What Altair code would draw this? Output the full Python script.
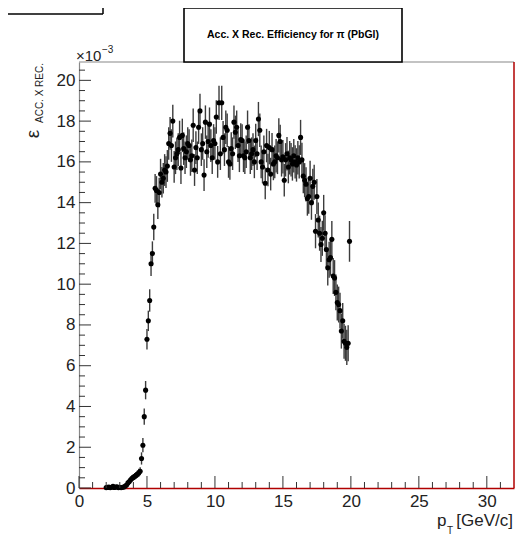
import altair as alt
import pandas as pd

# pT bin centres [GeV/c]
pt = [
    2.0, 2.1, 2.2, 2.3, 2.4, 2.5, 2.6, 2.7, 2.8, 2.9,
    3.0, 3.1, 3.2, 3.3, 3.4, 3.5, 3.6, 3.7, 3.8, 3.9,
    4.0, 4.1, 4.2, 4.3, 4.4, 4.5, 4.6, 4.7, 4.8, 4.9,
    5.0, 5.1, 5.2, 5.3, 5.4, 5.5, 5.6, 5.7, 5.8, 5.9,
    6.0, 6.1, 6.2, 6.3, 6.4, 6.5, 6.6, 6.7, 6.8, 6.9,
    7.0, 7.1, 7.2, 7.3, 7.4, 7.5, 7.6, 7.7, 7.8, 7.9,
    8.0, 8.1, 8.2, 8.3, 8.4, 8.5, 8.6, 8.7, 8.8, 8.9,
    9.0, 9.1, 9.2, 9.3, 9.4, 9.5, 9.6, 9.7, 9.8, 9.9,
    10.0, 10.1, 10.2, 10.3, 10.4, 10.5, 10.6, 10.7, 10.8, 10.9,
    11.0, 11.1, 11.2, 11.3, 11.4, 11.5, 11.6, 11.7, 11.8, 11.9,
    12.0, 12.1, 12.2, 12.3, 12.4, 12.5, 12.6, 12.7, 12.8, 12.9,
    13.0, 13.1, 13.2, 13.3, 13.4, 13.5, 13.6, 13.7, 13.8, 13.9,
    14.0, 14.1, 14.2, 14.3, 14.4, 14.5, 14.6, 14.7, 14.8, 14.9,
    15.0, 15.1, 15.2, 15.3, 15.4, 15.5, 15.6, 15.7, 15.8, 15.9,
    16.0, 16.1, 16.2, 16.3, 16.4, 16.5, 16.6, 16.7, 16.8, 16.9,
    17.0, 17.1, 17.2, 17.3, 17.4, 17.5, 17.6, 17.7, 17.8, 17.9,
    18.0, 18.1, 18.2, 18.3, 18.4, 18.5, 18.6, 18.7, 18.8, 18.9,
    19.0, 19.1, 19.2, 19.3, 19.4, 19.5, 19.6, 19.7, 19.8, 19.9,
]

# efficiency (x 10^-3)
eff = [
    0.02, 0.03, 0.05, 0.02, 0.04, 0.08, 0.03, 0.05, 0.06, 0.02,
    0.03, 0.02, 0.04, 0.05, 0.10, 0.15, 0.25, 0.32, 0.40, 0.48,
    0.52, 0.58, 0.62, 0.68, 0.75, 0.82, 1.45, 2.10, 3.50, 4.80,
    7.30, 8.20, 9.20, 11.00, 11.50, 12.80, 14.70, 14.60, 13.90, 14.50,
    15.40, 15.00, 15.20, 15.60, 15.50, 15.80, 16.90, 17.40, 16.80, 18.00,
    15.75, 16.20, 16.40, 16.60, 17.20, 15.70, 17.30, 16.65, 16.20, 16.50,
    16.90, 16.80, 16.10, 16.30, 17.80, 15.60, 16.70, 16.20, 17.70, 18.50,
    16.60, 16.90, 15.35, 17.95, 16.50, 17.00, 17.85, 16.80, 16.20, 17.05,
    16.90, 18.20, 16.00, 18.90, 16.40, 18.90, 17.20, 16.60, 17.70, 17.55,
    16.00, 15.90, 16.65, 16.40, 17.95, 17.45, 17.70, 16.80, 16.30, 17.10,
    17.05, 16.30, 16.20, 16.50, 17.70, 17.05, 16.20, 16.40, 16.60, 16.00,
    17.05, 16.40, 18.10, 17.55, 16.00, 15.75, 16.50, 14.95, 16.80, 15.60,
    16.70, 15.40, 16.60, 15.90, 16.00, 16.30, 16.20, 17.30, 17.00, 16.10,
    16.25, 15.10, 16.10, 16.40, 15.75, 16.20, 16.10, 15.90, 16.30, 16.00,
    15.85, 16.20, 16.00, 17.20, 16.10, 15.30, 15.10, 14.90, 14.20, 14.30,
    15.20, 14.00, 14.80, 15.00, 12.60, 14.30, 13.15, 12.50, 11.95, 12.25,
    13.50, 12.50, 11.70, 10.80, 11.20, 11.30, 12.20, 10.40, 10.30, 9.60,
    9.10, 9.00, 8.70, 7.70, 8.20, 7.20, 7.10, 6.90, 7.10, 12.10,
]

# statistical errors (x 10^-3)
err = [
    0.05, 0.05, 0.05, 0.05, 0.05, 0.05, 0.05, 0.05, 0.05, 0.05,
    0.05, 0.05, 0.05, 0.06, 0.08, 0.10, 0.12, 0.13, 0.14, 0.15,
    0.15, 0.16, 0.17, 0.18, 0.19, 0.20, 0.30, 0.35, 0.40, 0.45,
    0.50, 0.50, 0.55, 0.60, 0.60, 0.65, 0.70, 0.70, 0.70, 0.72,
    0.75, 0.75, 0.75, 0.78, 0.78, 0.78, 0.80, 0.80, 0.80, 0.80,
    0.78, 0.80, 0.80, 0.80, 0.82, 0.78, 0.82, 0.80, 0.80, 0.80,
    0.80, 0.80, 0.78, 0.80, 0.82, 0.78, 0.80, 0.80, 0.82, 0.84,
    0.80, 0.80, 0.78, 0.82, 0.80, 0.80, 0.82, 0.80, 0.80, 0.80,
    0.80, 0.82, 0.78, 0.84, 0.80, 0.84, 0.80, 0.80, 0.82, 0.82,
    0.78, 0.78, 0.80, 0.80, 0.82, 0.82, 0.82, 0.80, 0.80, 0.80,
    0.80, 0.80, 0.80, 0.80, 0.82, 0.80, 0.80, 0.80, 0.80, 0.80,
    0.82, 0.80, 0.84, 0.82, 0.80, 0.80, 0.80, 0.78, 0.82, 0.80,
    0.82, 0.80, 0.82, 0.80, 0.80, 0.82, 0.80, 0.84, 0.82, 0.82,
    0.82, 0.80, 0.82, 0.82, 0.80, 0.82, 0.82, 0.82, 0.82, 0.82,
    0.82, 0.82, 0.82, 0.86, 0.84, 0.84, 0.84, 0.84, 0.84, 0.84,
    0.86, 0.84, 0.86, 0.86, 0.84, 0.86, 0.86, 0.86, 0.86, 0.86,
    0.88, 0.88, 0.88, 0.86, 0.88, 0.88, 0.90, 0.88, 0.88, 0.88,
    0.88, 0.88, 0.88, 0.86, 0.88, 0.86, 0.86, 0.86, 0.88, 1.00,
]

x_labels = [0, 5, 10, 15, 20, 25, 30]
x_minor = [1, 2, 3, 4, 6, 7, 8, 9, 11, 12, 13, 14, 16, 17, 18, 19,
           21, 22, 23, 24, 26, 27, 28, 29, 31]
y_labels = [0, 2, 4, 6, 8, 10, 12, 14, 16, 18, 20]
y_minor = [0.5, 1, 1.5, 2.5, 3, 3.5, 4.5, 5, 5.5, 6.5, 7, 7.5, 8.5, 9, 9.5,
           10.5, 11, 11.5, 12.5, 13, 13.5, 14.5, 15, 15.5, 16.5, 17, 17.5,
           18.5, 19, 19.5, 20.5]

title_text = "Acc. X Rec. Efficiency for π (PbGl)"

W, H = 435, 426
FONT = "Liberation Sans"
TXT = "#222222"

df = pd.DataFrame({"pt": pt, "eff": eff, "err": err})
df["lo"] = df["eff"] - df["err"]
df["hi"] = df["eff"] + df["err"]

xs = alt.Scale(domain=[0, 32], nice=False, zero=False)
ys = alt.Scale(domain=[0, 20.9], nice=False, zero=False)

xaxis = alt.Axis(values=x_labels, ticks=False, grid=False, title=None,
                 domainColor="#b00000", domainWidth=1.5,
                 labelFont=FONT, labelFontSize=17, labelColor=TXT,
                 labelPadding=5, labelFlush=False)
yaxis = alt.Axis(values=y_labels, ticks=False, grid=False, title=None,
                 domainColor="#888888", domainWidth=1.2,
                 labelFont=FONT, labelFontSize=17, labelColor=TXT,
                 labelPadding=4, labelFlush=False)

base = alt.Chart(df)
errbars = base.mark_rule(color="#3c3c3c", strokeWidth=1.4).encode(
    x=alt.X("pt:Q", scale=xs, axis=xaxis),
    y=alt.Y("lo:Q", scale=ys, axis=yaxis),
    y2="hi:Q",
)
points = base.mark_circle(size=26, color="black", opacity=1).encode(
    x=alt.X("pt:Q", scale=xs, axis=xaxis),
    y=alt.Y("eff:Q", scale=ys, axis=yaxis),
)

ymaj = alt.Chart(pd.DataFrame({"v": y_labels})).mark_rule(color="#333333", strokeWidth=1).encode(
    y=alt.Y("v:Q", scale=ys, axis=yaxis), x=alt.value(0), x2=alt.value(12))
ymin = alt.Chart(pd.DataFrame({"v": y_minor})).mark_rule(color="#333333", strokeWidth=1).encode(
    y=alt.Y("v:Q", scale=ys, axis=yaxis), x=alt.value(0), x2=alt.value(6))
xmaj = alt.Chart(pd.DataFrame({"v": x_labels})).mark_rule(color="#333333", strokeWidth=1).encode(
    x=alt.X("v:Q", scale=xs, axis=xaxis), y=alt.value(H), y2=alt.value(H - 12))
xmin = alt.Chart(pd.DataFrame({"v": x_minor})).mark_rule(color="#333333", strokeWidth=1).encode(
    x=alt.X("v:Q", scale=xs, axis=xaxis), y=alt.value(H), y2=alt.value(H - 6))

one = pd.DataFrame({"a": [0]})
top_line = alt.Chart(one).mark_rule(color="#888888", strokeWidth=1.2).encode(
    x=alt.value(0), x2=alt.value(W), y=alt.value(0))
right_line = alt.Chart(one).mark_rule(color="#b00000", strokeWidth=1.5).encode(
    x=alt.value(W), y=alt.value(0), y2=alt.value(H))

# title box
tbox = alt.Chart(one).mark_rect(fill="white", stroke="black", strokeWidth=1.6).encode(
    x=alt.value(105), x2=alt.value(323), y=alt.value(-54), y2=alt.value(0))
ttext = alt.Chart(one).mark_text(font=FONT, fontSize=10.5, fontWeight="bold",
                                 align="center", baseline="middle", color="black").encode(
    x=alt.value(214), y=alt.value(-27), text=alt.value(title_text))

# cut-off box at top-left
cb1 = alt.Chart(one).mark_rule(color="black", strokeWidth=1.5).encode(
    x=alt.value(-71), x2=alt.value(24), y=alt.value(-48))
cb2 = alt.Chart(one).mark_rule(color="black", strokeWidth=1.5).encode(
    x=alt.value(24), y=alt.value(-54), y2=alt.value(-48))

# exponent
exp1 = alt.Chart(one).mark_text(font=FONT, fontSize=15, align="left", baseline="alphabetic",
                                color=TXT).encode(
    x=alt.value(-3), y=alt.value(-1), text=alt.value("×10"))
exp2 = alt.Chart(one).mark_text(font=FONT, fontSize=10, align="left", baseline="alphabetic",
                                color=TXT).encode(
    x=alt.value(23), y=alt.value(-9), text=alt.value("−3"))

# y title
yt1 = alt.Chart(one).mark_text(font=FONT, fontSize=19, align="center", baseline="middle",
                               angle=270, color=TXT).encode(
    x=alt.value(-46), y=alt.value(72), text=alt.value("ε"))
yt2 = alt.Chart(one).mark_text(font=FONT, fontSize=10, align="right", baseline="middle",
                               angle=270, color=TXT).encode(
    x=alt.value(-39), y=alt.value(1), text=alt.value("ACC. X REC."))

# x title
xt1 = alt.Chart(one).mark_text(font=FONT, fontSize=17, align="right", baseline="alphabetic",
                               color=TXT).encode(
    x=alt.value(434), y=alt.value(464), text=alt.value("[GeV/c]"))
xt2 = alt.Chart(one).mark_text(font=FONT, fontSize=17, align="left", baseline="alphabetic",
                               color=TXT).encode(
    x=alt.value(358), y=alt.value(464), text=alt.value("p"))
xt3 = alt.Chart(one).mark_text(font=FONT, fontSize=10, align="left", baseline="alphabetic",
                               color=TXT).encode(
    x=alt.value(368), y=alt.value(472), text=alt.value("T"))

chart = alt.layer(
    errbars, points, ymaj, ymin, xmaj, xmin, top_line, right_line,
    tbox, ttext, cb1, cb2, exp1, exp2, yt1, yt2, xt1, xt2, xt3,
).properties(
    width=W, height=H,
    padding={"left": 71, "top": 54, "right": 5, "bottom": 48},
    autosize=alt.AutoSizeParams(type="none"),
).configure_view(stroke=None)

chart.save("out.html", embed_options={"renderer": "svg", "actions": False})
